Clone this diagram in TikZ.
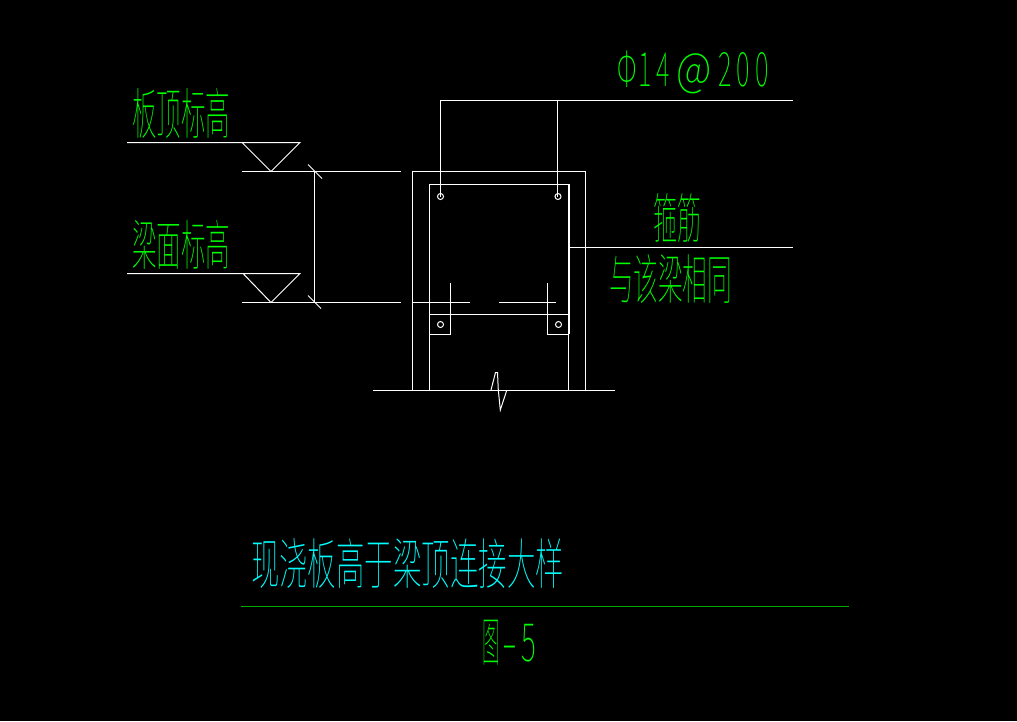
\documentclass[tikz,border=0pt]{standalone}
\usepackage{graphicx}
\usepackage{fontspec}
\setmainfont{Noto Sans CJK SC Thin}
\definecolor{cadgreen}{RGB}{0,255,0}
\definecolor{cadcyan}{RGB}{0,255,255}
\definecolor{ruleg}{RGB}{0,170,0}
\tikzset{
  wire/.style={draw=white,line width=1pt},
  heavy/.style={draw=white,line width=1.7pt},
  label/.style={inner sep=0pt,outer sep=0pt,text=cadgreen},
  title/.style={inner sep=0pt,outer sep=0pt,text=cadcyan}
}
\newcommand{\fitted}[3]{\resizebox*{#1pt}{#2pt}{#3}}
\begin{document}
\begin{tikzpicture}[x=1pt,y=-1pt]
\fill[black] (0,0) rectangle (1017,721);
\useasboundingbox (0,0) rectangle (1017,721);
% elevation marks
\draw[wire] (127,142.5) -- (300,142.5) -- (271,171.5) -- (242,142.5);
\draw[wire] (127,273.5) -- (300,273.5) -- (271,302.5) -- (243,273.5);
\draw[wire] (242,171.5) -- (401,171.5);
\draw[wire] (242,302.5) -- (401,302.5);
% dimension
\draw[wire] (314.5,171.5) -- (314.5,302.5);
\draw[wire] (308,164.5) -- (322,178.5);
\draw[wire] (308,295.5) -- (321,308.5);
% beam outline
\draw[wire] (412.5,390) -- (412.5,171.5) -- (585,171.5) -- (585,390);
\draw[wire] (373,390.5) -- (615,390.5);
% stirrup
\draw[wire] (429.5,390) -- (429.5,184.5) -- (569,184.5);
\draw[heavy] (569,184) -- (569,334);
\draw[wire] (568.5,334) -- (568.5,390);
\draw[wire] (429.5,314.5) -- (569,314.5);
\draw[wire] (429.5,334.5) -- (450.5,334.5) -- (450.5,283);
\draw[wire] (547.5,283) -- (547.5,334.5) -- (569,334.5);
% slab bars
\draw[wire] (412.5,302.5) -- (470,302.5);
\draw[wire] (499,302.5) -- (556,302.5);
% bars
\draw[wire] (440.5,196.5) circle (3);
\draw[wire] (558,196.5) circle (3);
\draw[wire] (440.5,324.5) circle (3);
\draw[wire] (558.5,324.5) circle (3);
% leaders
\draw[wire] (440.5,196.5) -- (440.5,100.5) -- (793,100.5);
\draw[wire] (557.5,196.5) -- (557.5,100.5);
\draw[wire] (569,247.5) -- (793,247.5);
% break mark
\draw[wire] (491,390) -- (495.5,372.5) -- (497.5,372.5) -- (498.3,390) -- (500.3,410) -- (506.7,390.5);
% title rule
\draw[draw=ruleg,line width=1pt] (241,606.5) -- (849,606.5);
% texts
\node[label] (slabtop) at (181,113.5) {\fitted{98}{50}{板顶标高}};
\node[label] (beamtop) at (181,244.5) {\fitted{98}{49}{梁面标高}};
\node[label] (rebar) at (693,72.5) {\fitted{151}{43}{Φ\kern.05em 1\kern.2em 4\kern.25em \scalebox{1.55}[1]{@}\kern.25em 2\kern.2em 0\kern.2em 0}};
\node[label] (stirrup) at (677,218) {\fitted{48}{49}{箍筋}};
\node[label] (same) at (670.5,279.5) {\fitted{123}{49}{与该梁相同}};
\node[title] (caption) at (407.5,563.5) {\fitted{313}{50}{现浇板高于梁顶连接大样}};
\node[label] (figno) at (509,643) {\fitted{54}{45}{\scalebox{.62}[1]{图}\kern.1em\scalebox{1.6}[1]{-}\kern.15em 5}};
\end{tikzpicture}
\end{document}
